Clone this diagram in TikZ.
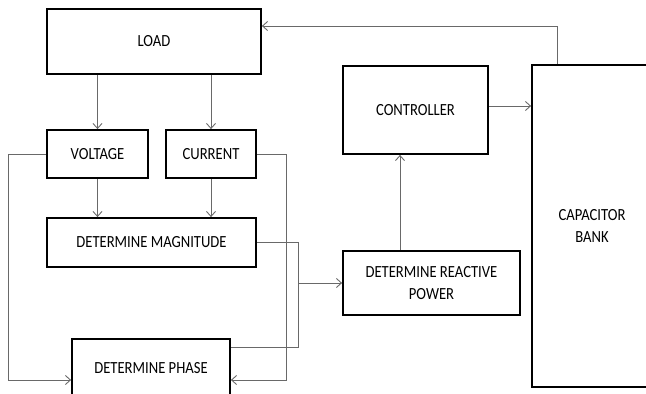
\documentclass[tikz,border=0pt]{standalone}
\usepackage{fontspec}
\setmainfont{Carlito}[FakeStretch=0.86]
\usetikzlibrary{arrows.meta}
\definecolor{wiregray}{RGB}{105,105,105}
\tikzset{
  blk/.style   = {draw=black, line width=1.8pt, align=center,
                  font=\fontsize{17}{22}\selectfont, inner sep=2pt},
  % wires: thin gray lines, arrows are open barbs
  wire/.style  = {draw=wiregray, line width=0.9pt},
  link/.style  = {wire, -{Straight Barb[length=5pt,width=9pt]}},
}

\begin{document}
\begin{tikzpicture}[x=1pt, y=-1pt]
    \useasboundingbox (0,0) rectangle (646,394);

    \node[blk, minimum width=214pt, minimum height=65pt] (load) at (154, 41.5) {LOAD};

    \node[blk, minimum width=101pt, minimum height=48pt] (volt) at (97.5, 154) {VOLTAGE};
    \node[blk, minimum width=90pt,  minimum height=48pt] (curr) at (211, 154)  {CURRENT};

    \node[blk, minimum width=209pt, minimum height=49pt] (mag)   at (151.5, 242.5) {DETERMINE MAGNITUDE};
    \node[blk, minimum width=158pt, minimum height=58pt] (phase) at (151, 368)     {DETERMINE PHASE};

    \node[blk, minimum width=177pt, minimum height=64pt] (react) at (431.5, 283) {DETERMINE REACTIVE\\POWER};
    \node[blk, minimum width=145pt, minimum height=88pt] (ctrl)  at (415.5, 110) {CONTROLLER};
    \node[blk, minimum width=120pt, minimum height=322pt] (cap)  at (592, 226)   {CAPACITOR\\BANK};

    \coordinate (jn) at (298, 283);

    \draw[link] (load.south -| volt.north) -- (volt.north);
    \draw[link] (load.south -| curr.north) -- (curr.north);
    \draw[link] (volt.south) -- (volt.south |- mag.north);
    \draw[link] (curr.south) -- (curr.south |- mag.north);
    \draw[link] (volt.west) -- ++(-37.5,0) |- ([yshift=-12pt]phase.west);
    \draw[link] (curr.east) -- ++(30,0) |- ([yshift=-12pt]phase.east);
    \draw[wire] (mag.east) -| (jn);
    \draw[wire] ([yshift=21pt]phase.east) -| (jn);
    \draw[link] (jn) -- (react.west);
    \draw[link] ([xshift=-31.5pt]react.north) -- ([xshift=-31.5pt]react.north |- ctrl.south);
    \draw[link] ([yshift=4pt]ctrl.east) -- ([yshift=4pt]ctrl.east -| cap.west);
    \draw[link] ([xshift=-35pt]cap.north) |- ([yshift=15.5pt]load.east);
\end{tikzpicture}
\end{document}
